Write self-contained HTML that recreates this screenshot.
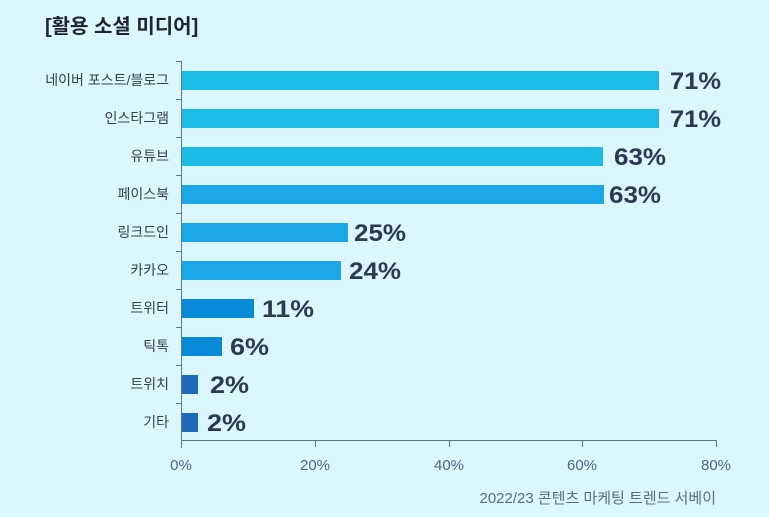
<!DOCTYPE html>
<html><head><meta charset="utf-8"><style>
html,body{margin:0;padding:0;background:#dcf6fd;}
svg{display:block}
</style></head><body>
<svg width="769" height="517" viewBox="0 0 769 517" xmlns="http://www.w3.org/2000/svg">
<rect width="769" height="517" fill="#dcf6fd"/>
<text x="45" y="33" font-family="Liberation Sans, Noto Sans CJK KR, sans-serif" font-size="20" font-weight="bold" fill="#1e2430">[활용 소셜 미디어]</text>
<g stroke="#5d7688" stroke-width="1">
<line x1="181.5" y1="61" x2="181.5" y2="448"/>
<line x1="181" y1="440.5" x2="716" y2="440.5"/>
<line x1="176" y1="61.5" x2="181" y2="61.5"/>
<line x1="176" y1="99.5" x2="181" y2="99.5"/>
<line x1="176" y1="137.5" x2="181" y2="137.5"/>
<line x1="176" y1="175.5" x2="181" y2="175.5"/>
<line x1="176" y1="213.5" x2="181" y2="213.5"/>
<line x1="176" y1="251.5" x2="181" y2="251.5"/>
<line x1="176" y1="289.5" x2="181" y2="289.5"/>
<line x1="176" y1="327.5" x2="181" y2="327.5"/>
<line x1="176" y1="365.5" x2="181" y2="365.5"/>
<line x1="176" y1="403.5" x2="181" y2="403.5"/>
<line x1="315.5" y1="440" x2="315.5" y2="447"/>
<line x1="449.5" y1="440" x2="449.5" y2="447"/>
<line x1="582.5" y1="440" x2="582.5" y2="447"/>
<line x1="716.5" y1="440" x2="716.5" y2="447"/>
</g>
<g>
<rect x="182" y="71" width="477" height="19" fill="#1bbde6"/>
<rect x="182" y="109" width="477" height="19" fill="#1bbde6"/>
<rect x="182" y="147" width="421" height="19" fill="#1cbbe6"/>
<rect x="182" y="185" width="422" height="19" fill="#1ca8e8"/>
<rect x="182" y="223" width="166" height="19" fill="#1ca8e8"/>
<rect x="182" y="261" width="159" height="19" fill="#1ca8e8"/>
<rect x="182" y="299" width="72" height="19" fill="#078ad8"/>
<rect x="182" y="337" width="40" height="19" fill="#078ad8"/>
<rect x="182" y="375" width="16" height="19" fill="#1f6ab8"/>
<rect x="182" y="413" width="16" height="19" fill="#1f6ab8"/>
</g>
<g font-family="Liberation Sans, sans-serif" font-size="24" font-weight="bold" fill="#2b3a50">
<text x="670" y="89" textLength="51" lengthAdjust="spacingAndGlyphs">71%</text>
<text x="670" y="127" textLength="51" lengthAdjust="spacingAndGlyphs">71%</text>
<text x="614" y="165" textLength="52" lengthAdjust="spacingAndGlyphs">63%</text>
<text x="609" y="203" textLength="52" lengthAdjust="spacingAndGlyphs">63%</text>
<text x="354" y="241" textLength="52" lengthAdjust="spacingAndGlyphs">25%</text>
<text x="349" y="279" textLength="52" lengthAdjust="spacingAndGlyphs">24%</text>
<text x="262" y="317" textLength="52" lengthAdjust="spacingAndGlyphs">11%</text>
<text x="230" y="355" textLength="39" lengthAdjust="spacingAndGlyphs">6%</text>
<text x="210" y="393" textLength="39" lengthAdjust="spacingAndGlyphs">2%</text>
<text x="207" y="431" textLength="39" lengthAdjust="spacingAndGlyphs">2%</text>
</g>
<g font-family="Liberation Sans, Noto Sans CJK KR, sans-serif" font-size="14" fill="#34404f" text-anchor="end">
<text x="169" y="85">네이버 포스트/블로그</text>
<text x="169" y="123">인스타그램</text>
<text x="169" y="161">유튜브</text>
<text x="169" y="199">페이스북</text>
<text x="169" y="237">링크드인</text>
<text x="169" y="275">카카오</text>
<text x="169" y="313">트위터</text>
<text x="169" y="351">틱톡</text>
<text x="169" y="389">트위치</text>
<text x="169" y="427">기타</text>
</g>
<g font-family="Liberation Sans, sans-serif" font-size="15" fill="#4f6580" text-anchor="middle">
<text x="181" y="470">0%</text>
<text x="315" y="470">20%</text>
<text x="449" y="470">40%</text>
<text x="582" y="470">60%</text>
<text x="716" y="470">80%</text>
</g>
<text x="716" y="503" text-anchor="end" font-family="Liberation Sans, Noto Sans CJK KR, sans-serif" font-size="15" fill="#5a6c84">2022/23 콘텐츠 마케팅 트렌드 서베이</text>
</svg>
</body></html>
